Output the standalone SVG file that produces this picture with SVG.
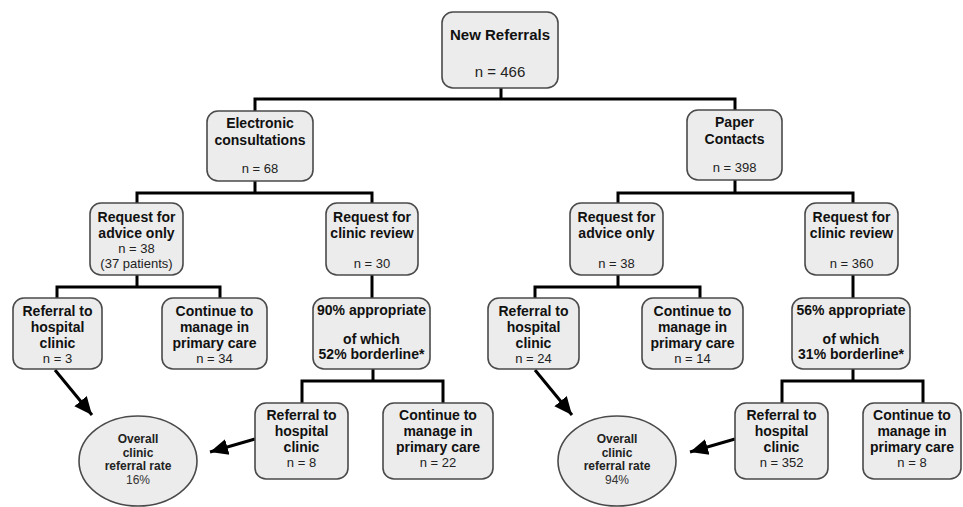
<svg xmlns="http://www.w3.org/2000/svg" width="963" height="507" viewBox="0 0 963 507">
<style>
.box{fill:#ececec;stroke:#4a4a4a;stroke-width:1.6}
.b{font-family:"Liberation Sans",Arial,sans-serif;font-weight:bold;font-size:14px;fill:#111;text-anchor:middle}
.r{font-family:"Liberation Sans",Arial,sans-serif;font-size:13px;fill:#222;text-anchor:middle}
.eb{font-family:"Liberation Sans",Arial,sans-serif;font-weight:bold;font-size:12px;fill:#222;text-anchor:middle}
.er{font-family:"Liberation Sans",Arial,sans-serif;font-size:12px;fill:#333;text-anchor:middle}
.ln{fill:none;stroke:#000;stroke-width:3}
.ar{fill:none;stroke:#000;stroke-width:3;marker-end:url(#ah)}
</style>
<defs>
<marker id="ah" markerUnits="userSpaceOnUse" markerWidth="20" markerHeight="20" viewBox="0 0 20 20" refX="18" refY="10" orient="auto">
<path d="M0,2 L18,10 L0,18 Z" fill="#000"/>
</marker>
</defs>
<rect width="963" height="507" fill="#fff"/>
<g id="connectors">
<path class="ln" d="M501,88 V99 M255,111 V99 H735 V110"/>
<path class="ln" d="M255,181 V193 M137,203 V193 H372 V203"/>
<path class="ln" d="M735,180 V193 M618,203 V193 H853 V203"/>
<path class="ln" d="M137,275 V287 M57,298 V287 H220 V298"/>
<path class="ln" d="M372,275 V298"/>
<path class="ln" d="M618,275 V287 M535,298 V287 H700 V298"/>
<path class="ln" d="M853,275 V298"/>
<path class="ln" d="M373,369 V381 M302,403 V381 H443 V403"/>
<path class="ln" d="M853,369 V381 M782,403 V381 H923 V403"/>
<path class="ar" d="M55,370 L92,415"/>
<path class="ar" d="M255,439 L210,452"/>
<path class="ar" d="M535,370 L572,415"/>
<path class="ar" d="M735,439 L690,452"/>
</g>
<g id="new-referrals">
<rect class="box" x="442" y="12" width="116" height="76" rx="11"/>
<text class="b" x="500" y="40" style="font-size:15px">New Referrals</text>
<text class="r" x="500" y="77" style="font-size:15px">n = 466</text>
</g>
<g id="electronic">
<rect class="box" x="207" y="111" width="106" height="70" rx="11"/>
<text class="b" x="260" y="128">Electronic</text>
<text class="b" x="260" y="145">consultations</text>
<text class="r" x="260" y="173">n = 68</text>
</g>
<g id="paper">
<rect class="box" x="687" y="110" width="95" height="70" rx="11"/>
<text class="b" x="734.5" y="127">Paper</text>
<text class="b" x="734.5" y="144">Contacts</text>
<text class="r" x="734.5" y="172">n = 398</text>
</g>
<g id="advice-e">
<rect class="box" x="90" y="203" width="93" height="72" rx="11"/>
<text class="b" x="136.5" y="222">Request for</text>
<text class="b" x="136.5" y="238">advice only</text>
<text class="r" x="136.5" y="253">n = 38</text>
<text class="r" x="136.5" y="268">(37 patients)</text>
</g>
<g id="clinic-e">
<rect class="box" x="326" y="203" width="92" height="72" rx="11"/>
<text class="b" x="372" y="222">Request for</text>
<text class="b" x="372" y="238">clinic review</text>
<text class="r" x="372" y="268">n = 30</text>
</g>
<g id="advice-p">
<rect class="box" x="570" y="203" width="93" height="72" rx="11"/>
<text class="b" x="616.5" y="222">Request for</text>
<text class="b" x="616.5" y="238">advice only</text>
<text class="r" x="616.5" y="268">n = 38</text>
</g>
<g id="clinic-p">
<rect class="box" x="805" y="203" width="93" height="72" rx="11"/>
<text class="b" x="851.5" y="222">Request for</text>
<text class="b" x="851.5" y="238">clinic review</text>
<text class="r" x="851.5" y="268">n = 360</text>
</g>
<g id="ref-e-adv">
<rect class="box" x="13" y="298" width="89" height="71" rx="11"/>
<text class="b" x="57.5" y="316">Referral to</text>
<text class="b" x="57.5" y="332">hospital</text>
<text class="b" x="57.5" y="348">clinic</text>
<text class="r" x="57.5" y="363">n = 3</text>
</g>
<g id="cont-e-adv">
<rect class="box" x="162" y="298" width="105" height="71" rx="11"/>
<text class="b" x="214.5" y="316">Continue to</text>
<text class="b" x="214.5" y="332">manage in</text>
<text class="b" x="214.5" y="348">primary care</text>
<text class="r" x="214.5" y="363">n = 34</text>
</g>
<g id="approp-e">
<rect class="box" x="313" y="298" width="117" height="71" rx="11"/>
<text class="b" x="371.5" y="315">90% appropriate</text>
<text class="b" x="371.5" y="344">of which</text>
<text class="b" x="371.5" y="359">52% borderline*</text>
</g>
<g id="ref-p-adv">
<rect class="box" x="488" y="298" width="91" height="71" rx="11"/>
<text class="b" x="533.5" y="316">Referral to</text>
<text class="b" x="533.5" y="332">hospital</text>
<text class="b" x="533.5" y="348">clinic</text>
<text class="r" x="533.5" y="363">n = 24</text>
</g>
<g id="cont-p-adv">
<rect class="box" x="642" y="298" width="101" height="71" rx="11"/>
<text class="b" x="692.5" y="316">Continue to</text>
<text class="b" x="692.5" y="332">manage in</text>
<text class="b" x="692.5" y="348">primary care</text>
<text class="r" x="692.5" y="363">n = 14</text>
</g>
<g id="approp-p">
<rect class="box" x="792" y="298" width="118" height="71" rx="11"/>
<text class="b" x="851" y="315">56% appropriate</text>
<text class="b" x="851" y="344">of which</text>
<text class="b" x="851" y="359">31% borderline*</text>
</g>
<g id="ref-e-clin">
<rect class="box" x="255" y="403" width="93" height="76" rx="11"/>
<text class="b" x="301.5" y="420">Referral to</text>
<text class="b" x="301.5" y="436">hospital</text>
<text class="b" x="301.5" y="452">clinic</text>
<text class="r" x="301.5" y="467">n = 8</text>
</g>
<g id="cont-e-clin">
<rect class="box" x="383" y="403" width="110" height="76" rx="11"/>
<text class="b" x="438" y="420">Continue to</text>
<text class="b" x="438" y="436">manage in</text>
<text class="b" x="438" y="452">primary care</text>
<text class="r" x="438" y="467">n = 22</text>
</g>
<g id="ref-p-clin">
<rect class="box" x="735" y="403" width="93" height="76" rx="11"/>
<text class="b" x="781.5" y="420">Referral to</text>
<text class="b" x="781.5" y="436">hospital</text>
<text class="b" x="781.5" y="452">clinic</text>
<text class="r" x="781.5" y="467">n = 352</text>
</g>
<g id="cont-p-clin">
<rect class="box" x="863" y="403" width="98" height="76" rx="11"/>
<text class="b" x="912" y="420">Continue to</text>
<text class="b" x="912" y="436">manage in</text>
<text class="b" x="912" y="452">primary care</text>
<text class="r" x="912" y="467">n = 8</text>
</g>
<g id="rate-e">
<ellipse class="box" cx="138" cy="461" rx="59" ry="45"/>
<text class="eb" x="138" y="443">Overall</text>
<text class="eb" x="138" y="457">clinic</text>
<text class="eb" x="138" y="470">referral rate</text>
<text class="er" x="138" y="484">16%</text>
</g>
<g id="rate-p">
<ellipse class="box" cx="617" cy="461" rx="59" ry="45"/>
<text class="eb" x="617" y="443">Overall</text>
<text class="eb" x="617" y="457">clinic</text>
<text class="eb" x="617" y="470">referral rate</text>
<text class="er" x="617" y="484">94%</text>
</g>
</svg>
